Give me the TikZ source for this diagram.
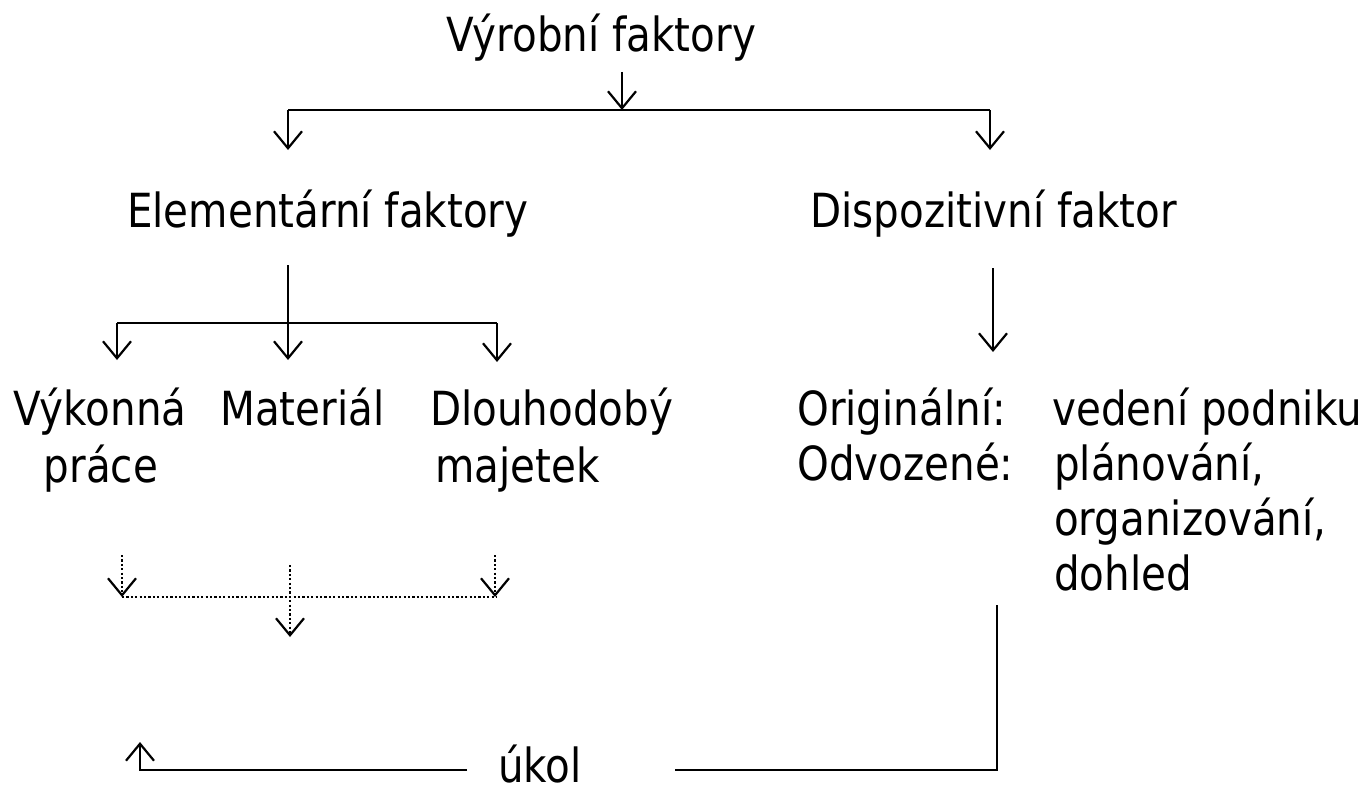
\documentclass[tikz,border=0pt]{standalone}
\usepackage{fontspec}
\setmainfont{DejaVu Sans}[FakeStretch=0.86]
\usetikzlibrary{arrows.meta}
\begin{document}
\begin{tikzpicture}[x=1pt,y=-1pt,
  lbl/.style={inner sep=0pt, font=\fontsize{47}{55}\selectfont},
  con/.style={line width=2.2pt},
  arr/.style={con,-{Straight Barb[length=17pt,width=28pt]}},
  dotline/.style={line width=2.2pt, dash pattern=on 2.2pt off 2.2pt},
  darr/.style={dotline,-{Straight Barb[length=17pt,width=28pt]}}]
\useasboundingbox (0,0) rectangle (1368,792);

% texts
\node[lbl,anchor=base] (vf) at (601,52) {Výrobní faktory};
\node[lbl,anchor=base west] (ef) at (127,227) {Elementární faktory};
\node[lbl,anchor=base west] (df) at (810,227) {Dispozitivní faktor};
\node[lbl,anchor=base west] (vyk) at (13,425) {Výkonná};
\node[lbl,anchor=base] (pra) at (101,482) {práce};
\node[lbl,anchor=base west] (mat) at (220,425) {Materiál};
\node[lbl,anchor=base west] (dlo) at (430,425) {Dlouhodobý};
\node[lbl,anchor=base west] (maj) at (435,482) {majetek};
\node[lbl,anchor=base west] (ori) at (797,425) {Originální:};
\node[lbl,anchor=base west] (ved) at (1052,425) {vedení podniku};
\node[lbl,anchor=base west] (odv) at (797,480) {Odvozené:};
\node[lbl,anchor=base west] (pla) at (1054,480) {plánování,};
\node[lbl,anchor=base west] (org) at (1054,535) {organizování,};
\node[lbl,anchor=base west] (doh) at (1054,590) {dohled};
\node[lbl,anchor=base] (ukol) at (540,782) {úkol};

% coordinates
\coordinate (t0) at (622,72);
\coordinate (t1) at (622,110);
\coordinate (tl) at (288,110);
\coordinate (tr) at (990,110);
\coordinate (efin) at (288,150);
\coordinate (dfin) at (990,150);
\coordinate (e0) at (288,265);
\coordinate (e1) at (288,323);
\coordinate (e2) at (288,360);
\coordinate (el) at (117,323);
\coordinate (er) at (497,323);
\coordinate (elb) at (117,360);
\coordinate (erb) at (497,362);
\coordinate (d0) at (993,268);
\coordinate (d1) at (993,352);
\coordinate (p0) at (122,555);
\coordinate (p1) at (122,597);
\coordinate (q0) at (290,565);
\coordinate (q1) at (290,597);
\coordinate (q2) at (290,637);
\coordinate (r0) at (495,555);
\coordinate (r1) at (495,597);
\coordinate (r2) at (497,597);
\coordinate (b0) at (997,605);
\coordinate (b1) at (997,770);
\coordinate (b2) at (675,770);
\coordinate (c0) at (467,770);
\coordinate (c1) at (140,770);
\coordinate (c2) at (140,742);

% top split
\draw[arr] (t0) -- (t1);
\draw[con] (tl) -- (tr);
\draw[arr] (tl) -- (efin);
\draw[arr] (tr) -- (dfin);

% elementary split
\draw[arr] (e0) -- (e2);
\draw[con] (el) -- (er);
\draw[arr] (el) -- (elb);
\draw[arr] (er) -- (erb);

% dispositive
\draw[arr] (d0) -- (d1);

% dotted combination
\draw[darr] (p0) -- (p1);
\draw[darr] (r0) -- (r1);
\draw[dotline] (p1) -- (r2);
\draw[darr] (q0) -- (q2);

% task loop
\draw[con] (b0) -- (b1) -- (b2);
\draw[arr] (c0) -- (c1) -- (c2);
\end{tikzpicture}
\end{document}
